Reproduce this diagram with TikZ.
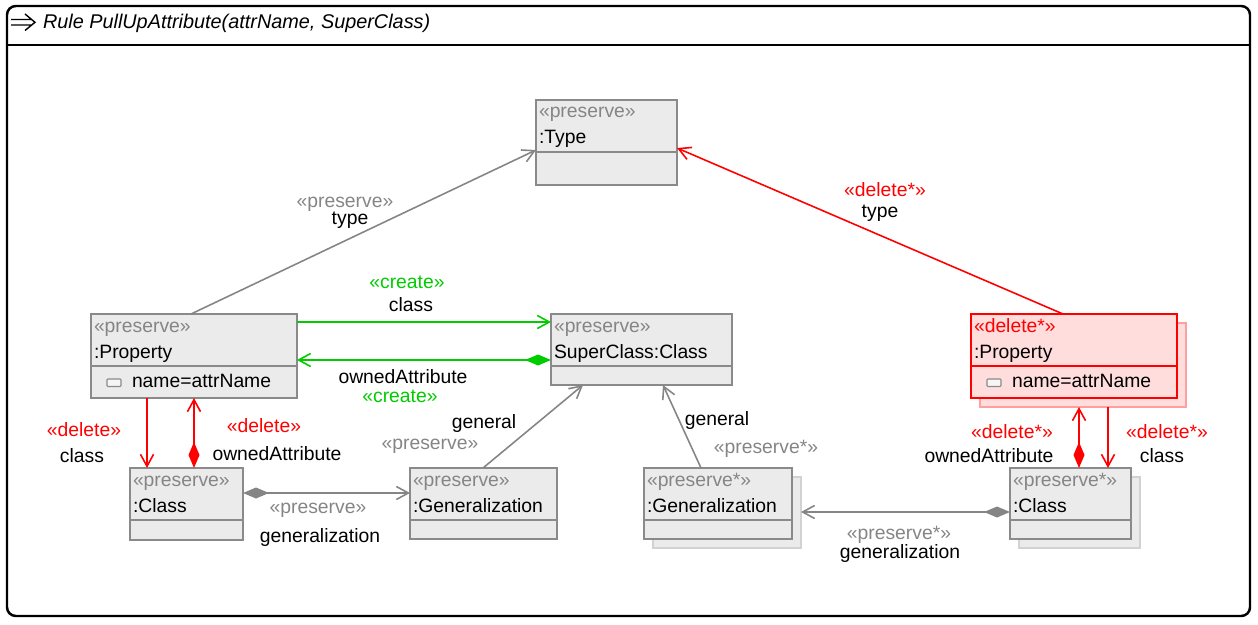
\documentclass[tikz,border=0pt]{standalone}
\usepackage{fontspec}
\setmainfont{Liberation Sans}
\usetikzlibrary{arrows.meta}

\tikzset{openhead/.tip={Straight Barb[length=0.24cm,width=0.26cm]},
  comphead/.tip={Diamond[length=0.52cm,width=0.22cm]}}

\begin{document}
\begin{tikzpicture}[x=0.02cm,y=-0.02cm,
  every node/.style={font=\fontsize{11}{13}\selectfont,inner sep=0pt,outer sep=0pt},
  objbox/.style={draw=boxline,fill=boxfill,line width=1pt,anchor=north west},
  shadebox/.style={draw=shadeline,fill=boxfill,line width=1pt,anchor=north west},
  attricon/.style={draw=boxline,fill=white!92!gray,line width=0.6pt,rounded corners=0.5pt,
    minimum width=0.28cm,minimum height=0.15cm,anchor=north west},
  txt/.style={anchor=base west},
  lbl/.style={anchor=base},
  link/.style={line width=0.9pt,draw=linegray}]
\definecolor{boxfill}{HTML}{EBEBEB}
\definecolor{boxline}{HTML}{8A8A8A}
\definecolor{shadeline}{HTML}{D2D2D2}
\definecolor{stgray}{HTML}{858585}
\definecolor{linegray}{HTML}{858585}
\definecolor{delred}{HTML}{FF0000}
\definecolor{delfill}{HTML}{FFDDDD}
\definecolor{delshade}{HTML}{FF9F9F}
\definecolor{crgreen}{HTML}{00CC00}
\useasboundingbox (0,0) rectangle (1258,625);

% rule frame
\draw[line width=1.4pt,rounded corners=5pt] (7,6) rectangle (1250,616);
\draw[line width=1.2pt] (7,45) -- (1250,45);
\draw[line width=0.8pt] (11,19.5) -- (32,19.5) (11,25) -- (32,25)
  (25,14) -- (35,22.3) -- (25,30.5);
\node[txt,font=\fontsize{11.3}{13}\selectfont\itshape] (title) at (43,29) {Rule PullUpAttribute(attrName, SuperClass)};

% shadows of the multi objects
\node[shadebox,minimum width=148*0.02cm,minimum height=71*0.02cm] (genSs) at (653,477) {};
\node[shadebox,minimum width=121*0.02cm,minimum height=71*0.02cm] (clsRs) at (1019,477) {};
\node[shadebox,draw=delshade,fill=delfill,minimum width=206*0.02cm,minimum height=84*0.02cm] (propRs) at (980,323) {};

% objects
\foreach \nm/\x/\y/\w/\h/\st/\ty in {type/536/100/141/85/preserve/:Type,
  propL/91/314/206/84/preserve/:Property, sup/551/314/181/71/preserve/SuperClass:Class,
  clsL/130/468/113/72/preserve/:Class, gen/410/468/147/71/preserve/:Generalization,
  genS/644/468/148/71/preserve*/:Generalization, clsR/1010/468/121/71/preserve*/:Class}
{
  \node[objbox,minimum width=\w*0.02cm,minimum height=\h*0.02cm] (\nm) at (\x,\y) {};
  \draw[boxline,line width=1pt] (\x,\y+52) -- (\x+\w,\y+52);
  \node[txt,text=stgray] (\nm-st) at (\x+3,\y+18) {«\st»};
  \node[txt] (\nm-ty) at (\x+3,\y+44) {\ty};
}
\node[attricon] (propL-ic) at (107,379) {};
\node[txt] (propL-at) at (132,387) {name=attrName};

\node[objbox,draw=delred,fill=delfill,minimum width=206*0.02cm,minimum height=84*0.02cm] (propR) at (971,314) {};
\draw[delred,line width=1pt] (971,366) -- (1177,366);
\node[txt,text=delred] (propR-st) at (974,332) {«delete*»};
\node[txt] (propR-ty) at (974,358) {:Property};
\node[attricon] (propR-ic) at (987,379) {};
\node[txt] (propR-at) at (1012,387) {name=attrName};

% links
\draw[link,-openhead] (191,0 |- propL.north) -- (type.west |- 0,150);
\draw[link,draw=delred,-openhead] (1063,0 |- propR.north) -- (type.east |- 0,148);
\draw[link,draw=crgreen,-openhead] (propL.east |- 0,322) -- (sup.west |- 0,322);
\draw[link,draw=crgreen,comphead-openhead] (sup.west |- 0,360) -- (propL.east |- 0,360);
\draw[link,draw=delred,-openhead] (147,0 |- propL.south) -- (147,0 |- clsL.north);
\draw[link,draw=delred,comphead-openhead] (194,0 |- clsL.north) -- (194,0 |- propL.south);
\draw[link,comphead-openhead] (clsL.east |- 0,493) -- (gen.west |- 0,493);
\draw[link,-openhead] (483,0 |- gen.north) -- (583,0 |- sup.south);
\draw[link,-openhead] (701,0 |- genS.north) -- (663,0 |- sup.south);
\draw[link,comphead-openhead] (clsR.west |- 0,512) -- (genSs.east |- 0,512);
\draw[link,draw=delred,comphead-openhead] (1079,0 |- clsR.north) -- (1079,0 |- propRs.south);
\draw[link,draw=delred,-openhead] (1108,0 |- propRs.south) -- (1108,0 |- clsR.north);

% link labels
\foreach \nm/\x/\y/\tx/\cl in {l1s/345/201/«preserve»/stgray, l1n/350/218/type/black,
  l2s/885/190/«delete*»/delred, l2n/880/211/type/black,
  l3s/407/282/«create»/crgreen, l3n/411/305/class/black,
  l4n/403/377/ownedAttribute/black, l4s/400/396/«create»/crgreen,
  l5s/84/430/«delete»/delred, l5n/82/456/class/black,
  l6s/264/426/«delete»/delred, l6n/277/454/ownedAttribute/black,
  l7s/318/507/«preserve»/stgray, l7n/320/536/generalization/black,
  l8n/484/422/general/black, l8s/430/443/«preserve»/stgray,
  l9n/717/419/general/black, l9s/766/447/«preserve*»/stgray,
  l10s/899/533/«preserve*»/stgray, l10n/900/552/generalization/black,
  l11s/1012/432/«delete*»/delred, l11n/989/456/ownedAttribute/black,
  l12s/1167/432/«delete*»/delred, l12n/1162/456/class/black}
  {\node[lbl,text=\cl] (\nm) at (\x,\y+6) {\tx};}
\end{tikzpicture}
\end{document}
